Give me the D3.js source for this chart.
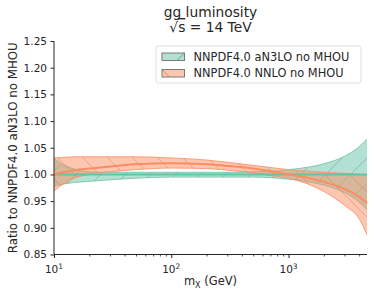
<!DOCTYPE html>
<html>
<head>
<meta charset="utf-8">
<script src="https://cdn.jsdelivr.net/npm/d3@7"></script>
<style>
  body { margin: 0; background: white; }
  text { font-family: "DejaVu Sans", sans-serif; fill: #262626; }
</style>
</head>
<body>
<svg id="svg"></svg>
<script>
let svg = d3.select("#svg");
const width = 374;
const height = 297;

// invariant mass grid (GeV) and ratios
const masses = [10, 12, 15, 20, 30, 50, 100, 200, 300, 500, 700, 1000, 1500, 2000, 3000, 4000, 4667];

const n3loCentral = [1, 1, 1, 1, 1, 1, 1, 1, 1, 1, 1, 1, 1, 1, 1, 1, 1];
const n3loUpper = [1.030, 1.018, 1.010, 1.005, 1.004, 1.004, 1.004, 1.004, 1.004, 1.005, 1.006, 1.009, 1.014, 1.020, 1.034, 1.052, 1.066];
const n3loLower = [0.978, 0.982, 0.985, 0.987, 0.990, 0.993, 0.995, 0.995, 0.995, 0.995, 0.994, 0.991, 0.986, 0.980, 0.966, 0.948, 0.934];

const nnloCentral = [1.000, 1.004, 1.008, 1.011, 1.015, 1.019, 1.021, 1.019, 1.016, 1.011, 1.006, 1.000, 0.993, 0.986, 0.973, 0.958, 0.946];
const nnloUpper = [1.031, 1.032, 1.033, 1.033, 1.033, 1.033, 1.031, 1.027, 1.023, 1.017, 1.013, 1.009, 1.006, 1.004, 1.002, 1.000, 0.999];
const nnloLower = [0.969, 0.982, 0.993, 1.000, 1.005, 1.009, 1.012, 1.011, 1.008, 1.003, 0.998, 0.993, 0.981, 0.968, 0.942, 0.917, 0.887];

const yTicks = [0.85, 0.90, 0.95, 1.00, 1.05, 1.10, 1.15, 1.20, 1.25];
const xMajor = [10, 100, 1000];
const xMinor = [20, 30, 40, 50, 60, 70, 80, 90, 200, 300, 400, 500, 600, 700, 800, 900, 2000, 3000, 4000];

const seriesNames = ["NNPDF4.0 aN3LO no MHOU", "NNPDF4.0 NNLO no MHOU"];
const seriesColors = ["#66c2a5", "#fc8d62"];
const hatchColors = ["#3f9c80", "#f06a3a"];
const hatchDirs = ["/", "\\"];

svg.attr("width", width).attr("height", height);

const margin = { top: 41, right: 7, bottom: 42.5, left: 54 };
const plotRight = width - margin.right;
const plotBottom = height - margin.bottom;

let xScale = d3.scaleLog()
    .domain([10, 14000 / 3])
    .range([margin.left, plotRight]);

let yScale = d3.scaleLinear()
    .domain([0.85, 1.25])
    .range([plotBottom, margin.top]);

// hatch patterns
const defs = svg.append("defs");
function addHatch(id, color, dir) {
    const s = 25;
    const p = defs.append("pattern")
        .attr("id", id)
        .attr("patternUnits", "userSpaceOnUse")
        .attr("width", s)
        .attr("height", s);
    const d = dir === "/"
        ? `M-2,2 L2,-2 M0,${s} L${s},0 M${s - 2},${s + 2} L${s + 2},${s - 2}`
        : `M-2,${s - 2} L2,${s + 2} M0,0 L${s},${s} M${s - 2},-2 L${s + 2},2`;
    p.append("path")
        .attr("d", d)
        .attr("stroke", color)
        .attr("stroke-width", 0.8)
        .attr("fill", "none");
}
hatchDirs.forEach((h, i) => addHatch("hatch" + i, hatchColors[i], h));

const plot = svg.append("g");

const bands = [
    { lower: n3loLower, upper: n3loUpper, central: n3loCentral },
    { lower: nnloLower, upper: nnloUpper, central: nnloCentral }
];

const area = d3.area()
    .x(d => xScale(d.m))
    .y0(d => yScale(d.lo))
    .y1(d => yScale(d.hi))
    .curve(d3.curveMonotoneX);

const line = d3.line()
    .x(d => xScale(d.m))
    .y(d => yScale(d.v))
    .curve(d3.curveMonotoneX);

bands.forEach((b, i) => {
    const pts = masses.map((m, k) => ({ m: m, lo: b.lower[k], hi: b.upper[k] }));
    plot.append("path")
        .datum(pts)
        .attr("d", area)
        .attr("fill", seriesColors[i])
        .attr("fill-opacity", 0.5);
    plot.append("path")
        .datum(pts)
        .attr("d", area)
        .attr("fill", `url(#hatch${i})`)
        .attr("opacity", 0.55);
    // band edges
    [b.lower, b.upper].forEach(edge => {
        plot.append("path")
            .datum(masses.map((m, k) => ({ m: m, v: edge[k] })))
            .attr("d", line)
            .attr("fill", "none")
            .attr("stroke", seriesColors[i])
            .attr("stroke-opacity", 0.8)
            .attr("stroke-width", 1);
    });
});

// central values
bands.forEach((b, i) => {
    plot.append("path")
        .datum(masses.map((m, k) => ({ m: m, v: b.central[k] })))
        .attr("d", line)
        .attr("fill", "none")
        .attr("stroke", seriesColors[i])
        .attr("stroke-width", 2);
});

// y axis
const yAxis = svg.append("g")
    .attr("transform", `translate(${margin.left},0)`)
    .call(d3.axisLeft(yScale).tickValues(yTicks).tickFormat(d3.format(".2f")).tickSize(3.5).tickPadding(3.5));
yAxis.select(".domain").attr("stroke", "#262626").attr("d", `M0,${margin.top}V${plotBottom}`);
yAxis.selectAll(".tick line").attr("stroke", "#262626");
yAxis.selectAll("text").style("font-size", "10.5px").attr("fill", "#262626");

// x axis
const xAxis = svg.append("g")
    .attr("transform", `translate(0,${plotBottom})`)
    .call(d3.axisBottom(xScale).tickValues(xMajor).tickFormat("").tickSize(3.5));
xAxis.select(".domain").attr("stroke", "#262626").attr("d", `M${margin.left},0H${plotRight}`);
xAxis.selectAll(".tick line").attr("stroke", "#262626");

const xMinorAxis = svg.append("g")
    .attr("transform", `translate(0,${plotBottom})`)
    .call(d3.axisBottom(xScale).tickValues(xMinor).tickFormat("").tickSize(2));
xMinorAxis.select(".domain").remove();
xMinorAxis.selectAll(".tick line").attr("stroke", "#262626").attr("stroke-width", 0.8);

xMajor.forEach(v => {
    const t = svg.append("text")
        .attr("x", xScale(v))
        .attr("y", plotBottom + 18)
        .attr("text-anchor", "middle")
        .style("font-size", "10.5px");
    t.append("tspan").text("10");
    t.append("tspan")
        .attr("dy", -4)
        .style("font-size", "7.5px")
        .text(Math.round(Math.log10(v)));
});

// axis labels
const xLab = svg.append("text")
    .attr("x", (margin.left + plotRight) / 2)
    .attr("y", 285)
    .attr("text-anchor", "middle")
    .style("font-size", "11.5px");
xLab.append("tspan").text("m");
xLab.append("tspan").attr("dy", 2.5).style("font-size", "8px").text("X");
xLab.append("tspan").attr("dy", -2.5).text(" (GeV)");

svg.append("text")
    .attr("transform", `translate(17,${(margin.top + plotBottom) / 2}) rotate(-90)`)
    .attr("text-anchor", "middle")
    .style("font-size", "11.8px")
    .text("Ratio to NNPDF4.0 aN3LO no MHOU");

// title
const cx = (margin.left + plotRight) / 2;
svg.append("text")
    .attr("x", cx)
    .attr("y", 17)
    .attr("text-anchor", "middle")
    .style("font-size", "13.8px")
    .text("gg luminosity");
const sub = svg.append("text")
    .attr("x", cx)
    .attr("y", 32)
    .attr("text-anchor", "middle")
    .style("font-size", "13.8px");
sub.append("tspan").text("√");
sub.append("tspan").style("text-decoration", "overline").text("s");
sub.append("tspan").text(" = 14 TeV");

// legend
const legend = svg.append("g").attr("transform", "translate(156,46)");
legend.append("rect")
    .attr("width", 205)
    .attr("height", 37)
    .attr("rx", 2.5)
    .attr("fill", "white")
    .attr("fill-opacity", 0.8)
    .attr("stroke", "#d6d6d6")
    .attr("stroke-width", 0.8);

const items = legend.selectAll(".legend-item")
    .data(seriesNames)
    .enter()
    .append("g")
    .attr("class", "legend-item")
    .attr("transform", (d, i) => `translate(6, ${7 + i * 16.5})`);

items.append("rect")
    .attr("width", 22.5)
    .attr("height", 7.5)
    .attr("fill", (d, i) => seriesColors[i])
    .attr("fill-opacity", 0.5);
items.append("path")
    .attr("d", (d, i) => hatchDirs[i] === "/" ? "M15,7.5 L22.5,0" : "M0,0 L7.5,7.5")
    .attr("stroke", (d, i) => hatchColors[i])
    .attr("stroke-width", 0.8);
items.append("rect")
    .attr("width", 22.5)
    .attr("height", 7.5)
    .attr("fill", "none")
    .attr("stroke", "#7a7a7a")
    .attr("stroke-width", 1);

items.append("text")
    .attr("x", 31.5)
    .attr("y", 7.8)
    .style("font-size", "11.4px")
    .text(d => d);
</script>
</body>
</html>
